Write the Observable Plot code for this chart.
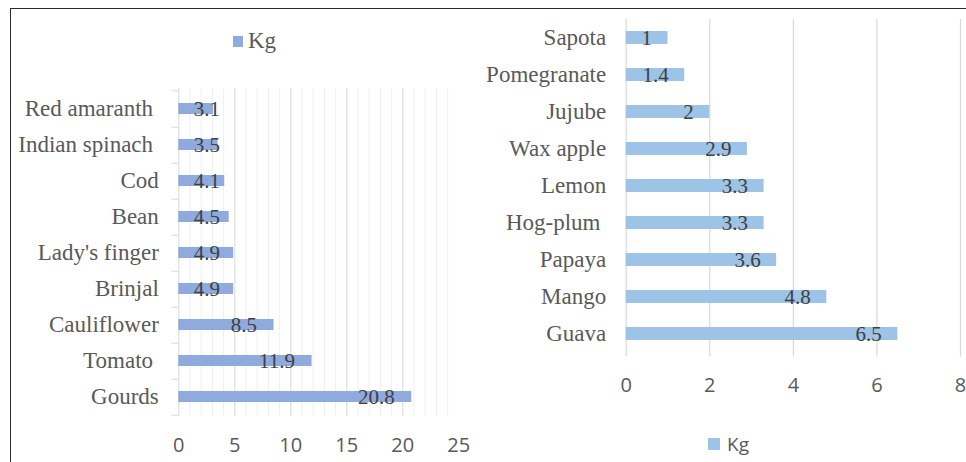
<!DOCTYPE html>
<html>
<head>
<meta charset="utf-8">
<script src="https://cdn.jsdelivr.net/npm/d3@7"></script>
<script src="https://cdn.jsdelivr.net/npm/@observablehq/plot@0.6"></script>
<style>
  html, body { margin: 0; padding: 0; background: #fff; overflow: hidden; }
  #page { position: relative; width: 966px; height: 462px; overflow: hidden; background: #fff; }
  #page svg { position: absolute; top: 0; background: transparent !important; }
  #page svg text { white-space: pre; }
  #frame { position: absolute; left: 10px; top: 8px; width: 970px; height: 470px;
           border-left: 1.5px solid #2a2a2a; border-top: 1.5px solid #2a2a2a; pointer-events: none; z-index: 5; }
  .legend { position: absolute; display: flex; align-items: center; color: #595959; z-index: 4; }
  .legend .sw { display: inline-block; }
</style>
</head>
<body>
<div id="page">
  <div id="frame"></div>
  <div class="legend" id="legL" style="left:233px; top:28px; font-family:'Liberation Serif', serif; font-size:23px;">
    <span class="sw" style="width:10px;height:11px;background:#8FAADC;margin-right:5px;"></span>Kg
  </div>
  <div class="legend" id="legR" style="left:708px; top:431px; font-family:'Open Sans', sans-serif; font-size:19px;">
    <span class="sw" style="width:12px;height:12px;background:#9DC3E6;margin-right:7px;"></span>Kg
  </div>
</div>
<script>
// ---- data ----
const vegCategories = ["Red amaranth ", "Indian spinach ", "Cod", "Bean", "Lady's finger", "Brinjal", "Cauliflower", "Tomato ", "Gourds"];
const vegKg = [3.1, 3.5, 4.1, 4.5, 4.9, 4.9, 8.5, 11.9, 20.8];
const vegTicks = [0, 5, 10, 15, 20, 25];

const fruitCategories = ["Sapota", "Pomegranate", "Jujube", "Wax apple", "Lemon", "Hog-plum ", "Papaya", "Mango", "Guava"];
const fruitKg = [1, 1.4, 2, 2.9, 3.3, 3.3, 3.6, 4.8, 6.5];
const fruitTicks = [0, 2, 4, 6, 8];

const veg = vegCategories.map((name, i) => ({name, kg: vegKg[i]}));
const fruit = fruitCategories.map((name, i) => ({name, kg: fruitKg[i]}));

const serif = "'Liberation Serif', 'Times New Roman', serif";
const sans = "'Open Sans', sans-serif";
const page = document.getElementById("page");

// ---- left chart (vegetables) ----
{
  const W = 480, H = 462, mL = 178.3, mR = 21.7, mT = 88, mB = 46;
  const step = (H - mT - mB) / vegCategories.length;
  const minor = d3.range(1, 25).filter(v => v % 5 !== 0);
  const major = [5, 10, 15, 20];
  const smallLimit = 5.2;
  const chart = Plot.plot({
    width: W, height: H,
    marginLeft: mL, marginRight: mR, marginTop: mT, marginBottom: mB,
    style: {background: "transparent"},
    x: {domain: [0, 25], label: null},
    y: {domain: vegCategories, paddingInner: 0.7, paddingOuter: 0.35, label: null},
    marks: [
      Plot.ruleX(minor, {stroke: "#EFEFEF", strokeWidth: 1}),
      Plot.ruleX(major, {stroke: "#D9D9D9", strokeWidth: 1}),
      Plot.ruleX([0], {stroke: "#D9D9D9", strokeWidth: 1}),
      Plot.axisY({tickSize: 7, text: null, stroke: "#D9D9D9", dy: step / 2}),
      Plot.axisY({ticks: [vegCategories[0]], tickSize: 7, text: null, stroke: "#D9D9D9", dy: -step / 2}),
      Plot.axisY({tickSize: 0, tickPadding: 20, fontSize: 23, fontFamily: serif, fill: "#595959", label: null}),
      Plot.axisX({ticks: vegTicks, tickSize: 0, tickPadding: 21, fontSize: 20, fontFamily: sans, fill: "#595959", label: null}),
      Plot.barX(veg, {x: "kg", y: "name", fill: "#8FAADC"}),
      Plot.text(veg.filter(d => d.kg >= smallLimit), {x: "kg", y: "name", text: d => String(d.kg), textAnchor: "end", dx: -17, dy: 0.5, fontSize: 21, fontFamily: serif, fill: "#404040"}),
      Plot.text(veg.filter(d => d.kg < smallLimit), {x: 0, y: "name", text: d => String(d.kg), textAnchor: "start", dx: 15, dy: 0.5, fontSize: 21, fontFamily: serif, fill: "#404040"})
    ]
  });
  chart.style.left = "0px";
  page.appendChild(chart);
}

// ---- right chart (fruits) ----
{
  const W = 486, H = 462, mL = 145.7, mR = 6, mT = 15, mB = 105.5;
  const chart = Plot.plot({
    width: W, height: H,
    marginLeft: mL, marginRight: mR, marginTop: mT, marginBottom: mB,
    style: {background: "transparent", overflow: "hidden"},
    x: {domain: [0, 8], label: null},
    y: {domain: fruitCategories, paddingInner: 0.64, paddingOuter: 0.32, label: null},
    marks: [
      Plot.ruleX(fruitTicks, {stroke: "#D9D9D9", strokeWidth: 1.2, insetTop: 4}),
      Plot.axisY({tickSize: 0, tickPadding: 20, fontSize: 23, fontFamily: serif, fill: "#595959", label: null}),
      Plot.axisX({ticks: fruitTicks, tickSize: 0, tickPadding: 21, fontSize: 20, fontFamily: sans, fill: "#595959", label: null}),
      Plot.barX(fruit, {x: "kg", y: "name", fill: "#9DC3E6"}),
      Plot.text(fruit, {x: "kg", y: "name", text: d => String(d.kg), textAnchor: "end", dx: -16, dy: 0.5, fontSize: 21, fontFamily: serif, fill: "#404040"})
    ]
  });
  chart.style.left = "480px";
  page.appendChild(chart);
}
</script>
</body>
</html>
